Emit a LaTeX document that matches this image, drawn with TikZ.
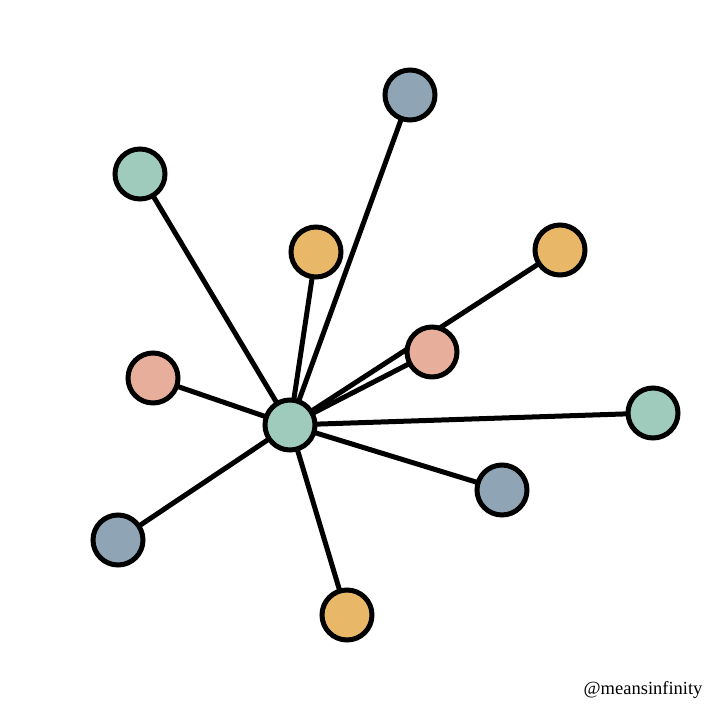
\documentclass[tikz,border=0pt]{standalone}
\usepackage{tikz}
\usepackage{xcolor}
\usepackage{fontspec}
\setmainfont{Liberation Serif}
\usetikzlibrary{backgrounds}

\definecolor{nodegreen}{HTML}{9ECBBB}
\definecolor{nodeblue}{HTML}{8FA5B5}
\definecolor{nodeorange}{HTML}{E8B767}
\definecolor{nodepink}{HTML}{E8AE9C}

\tikzset{
    dot/.style={circle,draw=black,line width=5pt,minimum size=50pt,inner sep=0pt},
    spoke/.style={line width=5pt,black}
}

\begin{document}
\begin{tikzpicture}[x=1pt,y=-1pt]
        \useasboundingbox (0,0) rectangle (720,720);
        % centre and outer nodes
        \node[dot,fill=nodegreen] (hub) at (290,425) {};
        \node[dot,fill=nodeblue] (bt) at (410,95) {};
        \node[dot,fill=nodegreen] (gtl) at (140,174) {};
        \node[dot,fill=nodeorange] (ot) at (316,252) {};
        \node[dot,fill=nodeorange] (or) at (560,250) {};
        \node[dot,fill=nodepink] (pr) at (432,352) {};
        \node[dot,fill=nodepink] (pl) at (153,378) {};
        \node[dot,fill=nodegreen] (gr) at (653,413) {};
        \node[dot,fill=nodeblue] (br) at (502,490) {};
        \node[dot,fill=nodeblue] (bl) at (118,540) {};
        \node[dot,fill=nodeorange] (ob) at (347,615) {};
        % spokes behind the nodes
        \begin{scope}[on background layer]
            \foreach \n in {bt,gtl,ot,or,pr,pl,gr,br,bl,ob}
                \draw[spoke] (hub.center) -- (\n.center);
        \end{scope}
        \node[anchor=east,font=\fontsize{18.5}{22}\selectfont] (tag) at (706,690) {@meansinfinity};
    \end{tikzpicture}
\end{document}
